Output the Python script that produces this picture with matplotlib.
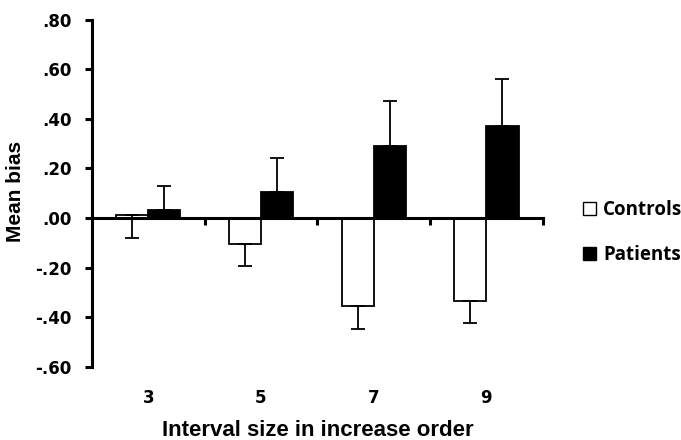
import matplotlib
matplotlib.use("Agg")
import matplotlib.pyplot as plt
import numpy as np
from matplotlib.patches import Patch
from matplotlib.transforms import blended_transform_factory

# Data
categories = ['3', '5', '7', '9']
controls = [0.01, -0.105, -0.357, -0.335]
controls_err = [0.09, 0.09, 0.09, 0.09]
patients = [0.03, 0.105, 0.29, 0.37]
patients_err = [0.10, 0.135, 0.18, 0.19]
yticks = [-0.6, -0.4, -0.2, 0.0, 0.2, 0.4, 0.6, 0.8]

plt.rcParams['font.family'] = ['Liberation Sans', 'DejaVu Sans']
tick_font = dict(family=['DejaVu Sans'], weight='bold', size=12)

fig = plt.figure(figsize=(6.81, 4.4), dpi=100)
ax = fig.add_axes([0.135, 0.1666, 0.662, 0.789])

x = np.arange(len(categories))
w = 0.285
lw = 1.3

# Controls: error bar goes downward, patients: upward
ax.bar(x - w / 2, controls, w, color='white', edgecolor='black', linewidth=lw, zorder=2,
       yerr=[controls_err, [0] * len(controls)],
       error_kw=dict(elinewidth=lw, capsize=4.7, capthick=lw, ecolor='black'))
ax.bar(x + w / 2, patients, w, color='black', edgecolor='black', linewidth=lw, zorder=2,
       yerr=[[0] * len(patients), patients_err],
       error_kw=dict(elinewidth=lw, capsize=4.7, capthick=lw, ecolor='black'))

ax.set_xlim(-0.5, len(categories) - 0.5)
ax.set_ylim(-0.6, 0.8)

# Axes styling
for s in ['top', 'right']:
    ax.spines[s].set_visible(False)
ax.spines['bottom'].set_position(('data', 0))
ax.spines['bottom'].set_linewidth(2.2)
ax.spines['left'].set_linewidth(2.2)
ax.spines['bottom'].set_zorder(3)

ax.set_xticks(np.arange(len(categories)) + 0.5)
ax.set_xticklabels([])
ax.tick_params(axis='x', direction='out', length=5, width=2.2)

ax.set_yticks(yticks)
ax.set_yticklabels([('-' if v < 0 else '') + ('%.2f' % abs(v))[1:] for v in yticks],
                   fontdict=tick_font)
ax.tick_params(axis='y', direction='out', length=5, width=2.2, pad=9.5)

# Category labels below the plot
trans = blended_transform_factory(ax.transData, ax.transAxes)
for xi, c in zip(x, categories):
    ax.text(xi, -0.09, c, transform=trans, ha='center', va='center', **tick_font)

fig.text(0.466, 0.022, 'Interval size in increase order', ha='center', va='center',
         fontsize=16, fontweight='bold')
fig.text(0.0228, 0.566, 'Mean bias', rotation=90, ha='center', va='center',
         fontsize=15, fontweight='bold')

handles = [Patch(facecolor='white', edgecolor='black', linewidth=1),
           Patch(facecolor='black', edgecolor='black', linewidth=1)]
fig.legend(handles, ['Controls', 'Patients'], loc='center left',
           bbox_to_anchor=(0.856, 0.4716), frameon=False,
           prop=dict(family=['Open Sans', 'DejaVu Sans'], weight='bold', size=13.5),
           handlelength=0.7, handleheight=0.7, handletextpad=0.37,
           labelspacing=1.3, borderpad=0, borderaxespad=0)

fig.savefig('out.png', dpi=100)
